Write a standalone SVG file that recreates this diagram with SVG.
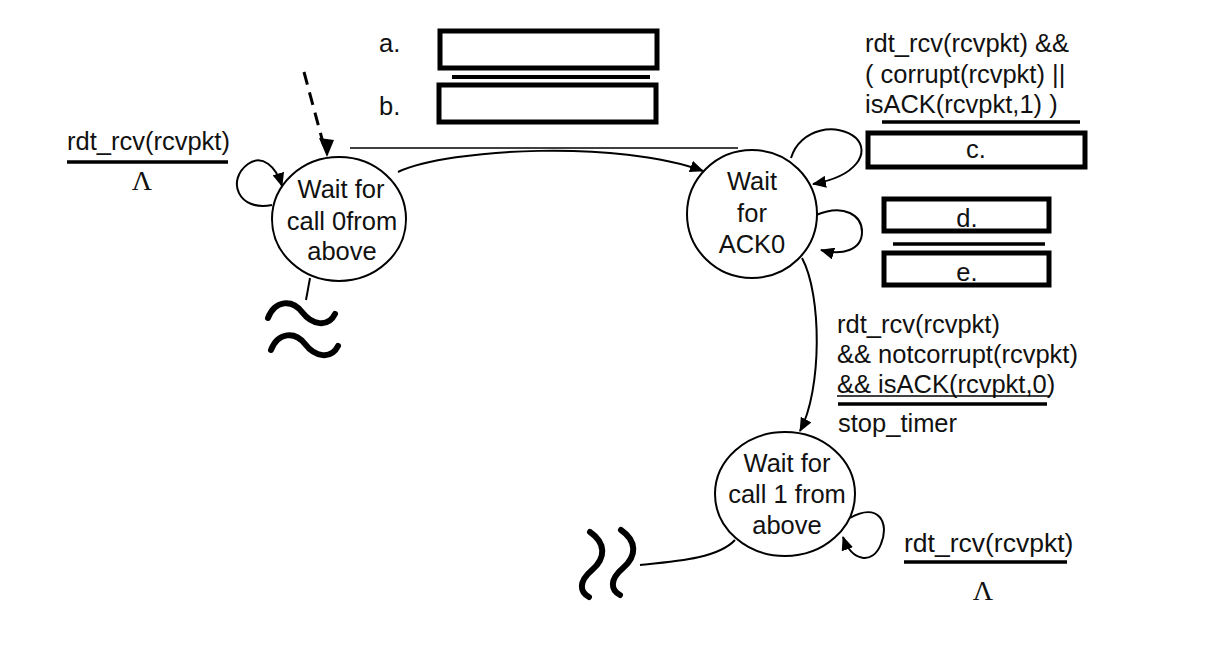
<svg xmlns="http://www.w3.org/2000/svg" width="1227" height="670" viewBox="0 0 1227 670">
<defs>
<marker id="arr" markerUnits="userSpaceOnUse" markerWidth="14" markerHeight="12" refX="13" refY="6" orient="auto">
<path d="M0,0 L14,6 L0,12 z" fill="#000"/>
</marker>
<style>
.node ellipse{fill:#fff;stroke:#000;stroke-width:2}
.t{font-family:"Liberation Sans",Arial,sans-serif;font-size:25.5px;fill:#111}
.c{text-anchor:middle}
.lam{font-family:"Liberation Serif","Times New Roman",serif;font-size:28px;fill:#111;text-anchor:middle}
.conn path,.conn line{fill:none;stroke:#000;stroke-width:2}
.box{fill:#fff;stroke:#000;stroke-width:5}
.bar{stroke:#000;stroke-width:3.5}
.ul{stroke:#000;stroke-width:1.3}
.tilde{fill:none;stroke:#000;stroke-width:6;stroke-linecap:round}
</style>
</defs>
<rect width="1227" height="670" fill="#fff"/>

<g id="connectors" class="conn">
<line x1="304" y1="72" x2="325" y2="150" stroke-dasharray="13 8" style="stroke-width:3"/>
<line x1="350" y1="148" x2="738" y2="148" style="stroke-width:1.5"/>
<path d="M398 172 C450 148 620 140 703 171" marker-end="url(#arr)"/>
<path d="M272 205 C238 212 226 180 248 164 C262 154 276 166 282 186" marker-end="url(#arr)"/>
<line x1="310" y1="278" x2="306" y2="300"/>
<path d="M791 158 C800 128 838 122 856 138 C870 152 858 176 813 184" marker-end="url(#arr)"/>
<path d="M816 215 C845 203 862 216 862 232 C862 250 842 256 821 250" marker-end="url(#arr)"/>
<path d="M802 258 C822 295 822 390 800 431" marker-end="url(#arr)"/>
<path d="M850 518 C878 502 890 522 881 544 C873 565 852 562 843 537" marker-end="url(#arr)"/>
<path d="M735 540 C718 558 680 561 640 565"/>
</g>
<path d="M327 157 L319 138 L334 140 z" fill="#000"/>

<g id="tildes">
<path class="tilde" d="M268 318 C275 300 292 299 302 312 C312 325 328 328 335 314"/>
<path class="tilde" d="M271 350 C278 332 295 331 305 344 C315 357 331 360 338 346"/>
<path class="tilde" d="M590 532 C606 543 606 558 592 570 C578 582 580 592 589 597"/>
<path class="tilde" d="M621 530 C637 541 637 556 623 568 C609 580 611 590 620 595"/>
</g>

<g id="node-call0" class="node">
<ellipse cx="339" cy="219" rx="67" ry="62"/>
<text class="t c" x="341" y="198">Wait for</text>
<text class="t c" x="342" y="230">call 0from</text>
<text class="t c" x="342" y="260">above</text>
</g>

<g id="node-ack0" class="node">
<ellipse cx="752" cy="214" rx="65" ry="64"/>
<text class="t c" x="752" y="190">Wait</text>
<text class="t c" x="752" y="222">for</text>
<text class="t c" x="752" y="253">ACK0</text>
</g>

<g id="node-call1" class="node">
<ellipse cx="785" cy="494" rx="70" ry="62"/>
<text class="t c" x="787" y="472">Wait for</text>
<text class="t c" x="787" y="503">call 1 from</text>
<text class="t c" x="787" y="534">above</text>
</g>

<g id="label-topleft">
<text class="t" x="67" y="150">rdt_rcv(rcvpkt)</text>
<line class="bar" x1="67" y1="162" x2="228" y2="162"/>
<text class="lam" x="142" y="190">Λ</text>
</g>

<g id="label-ab">
<text class="t" x="379" y="52">a.</text>
<rect class="box" x="440" y="31" width="217" height="37"/>
<line class="bar" x1="452" y1="77" x2="650" y2="77" style="stroke-width:4"/>
<text class="t" x="379" y="115">b.</text>
<rect class="box" x="439" y="85" width="217" height="37"/>
</g>

<g id="label-c">
<text class="t" x="865" y="52">rdt_rcv(rcvpkt) &amp;&amp;</text>
<text class="t" x="865" y="83">( corrupt(rcvpkt) ||</text>
<text class="t" x="865" y="113">isACK(rcvpkt,1) )</text>
<line class="bar" x1="882" y1="122" x2="1080" y2="122"/>
<rect class="box" x="868" y="133" width="217" height="34"/>
<text class="t c" x="976" y="158">c.</text>
</g>

<g id="label-de">
<rect class="box" x="884" y="199" width="165" height="32"/>
<text class="t c" x="967" y="227">d.</text>
<line class="bar" x1="893" y1="244" x2="1045" y2="244"/>
<rect class="box" x="884" y="253" width="165" height="32"/>
<text class="t c" x="967" y="281">e.</text>
</g>

<g id="label-ack0">
<text class="t" x="837" y="333">rdt_rcv(rcvpkt)</text>
<text class="t" x="837" y="363">&amp;&amp; notcorrupt(rcvpkt)</text>
<text class="t" x="837" y="393">&amp;&amp; isACK(rcvpkt,0)</text>
<line class="ul" x1="837" y1="396" x2="1050" y2="396"/>
<line class="bar" x1="838" y1="404" x2="1047" y2="404"/>
<text class="t" x="838" y="432">stop_timer</text>
</g>

<g id="label-bottomright">
<text class="t" x="904" y="552" style="font-size:26.5px">rdt_rcv(rcvpkt)</text>
<line class="bar" x1="904" y1="562" x2="1067" y2="562"/>
<text class="lam" x="983" y="600">Λ</text>
</g>
</svg>
